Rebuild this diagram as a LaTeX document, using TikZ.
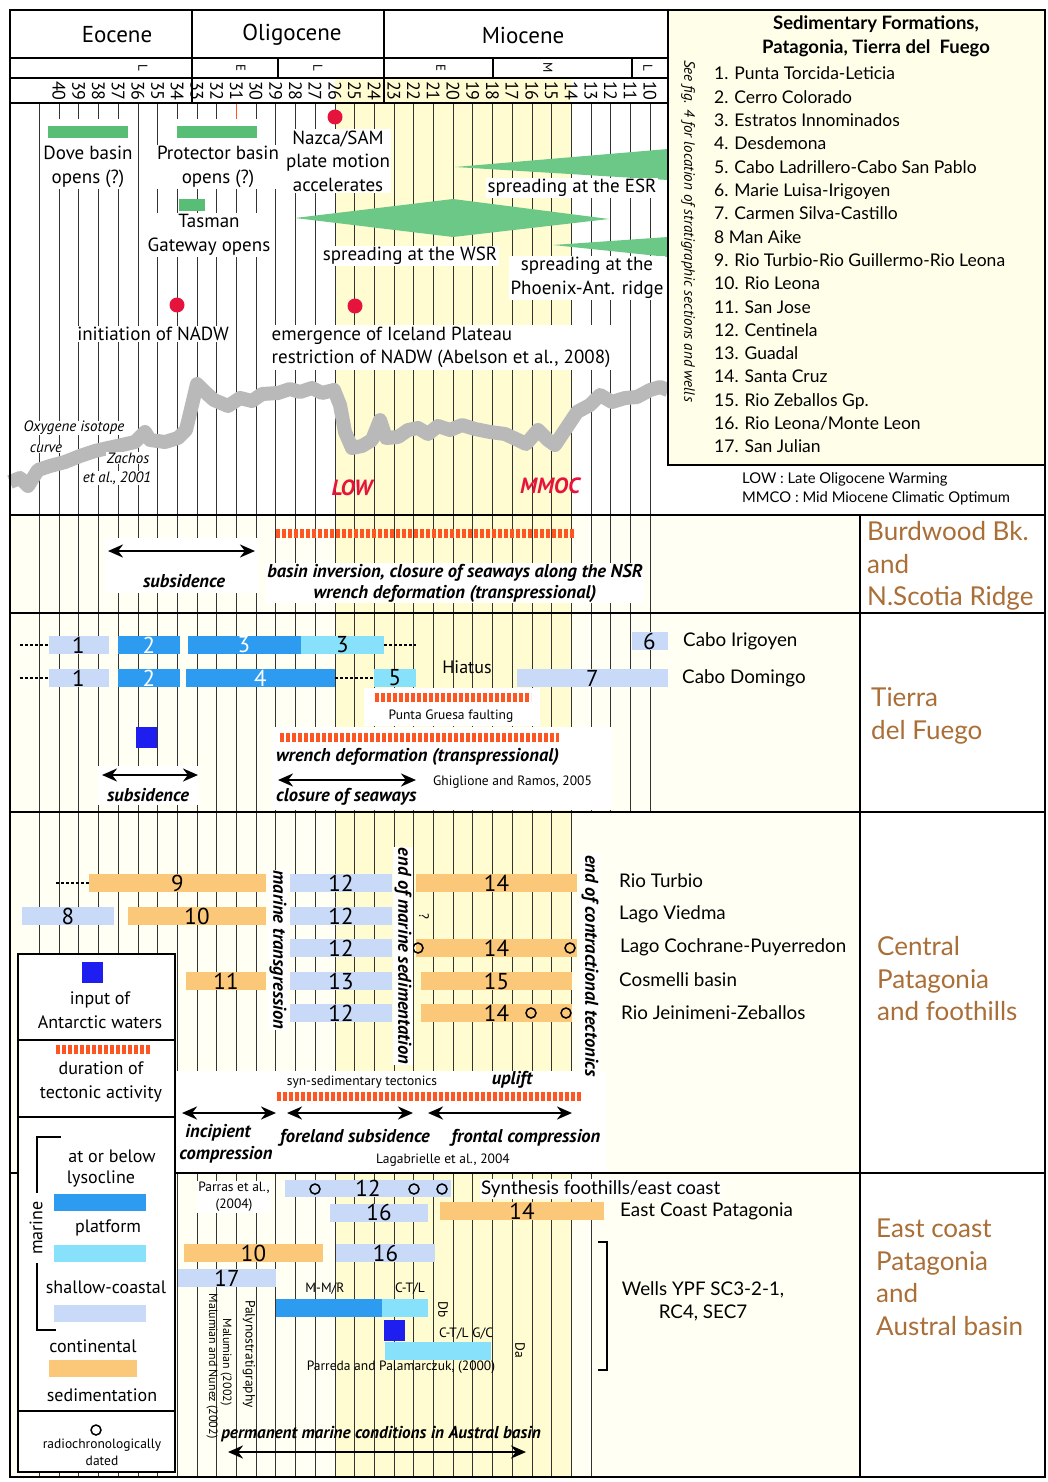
\documentclass[tikz,border=0pt]{standalone}
\usepackage{fontspec}
\setmainfont{PT Sans}
\newfontfamily\listfont{Lato}
\usetikzlibrary{arrows.meta}

\definecolor{lysoblue}{RGB}{45,155,240}
\definecolor{platcyan}{RGB}{135,225,250}
\definecolor{shallow}{RGB}{200,218,248}
\definecolor{contorange}{RGB}{251,200,122}
\definecolor{tectored}{RGB}{255,85,35}
\definecolor{antblue}{RGB}{30,30,240}
\definecolor{eventgreen}{RGB}{88,190,118}
\definecolor{spreadgreen}{RGB}{108,200,135}
\definecolor{bandyellow}{RGB}{255,252,210}
\definecolor{creambg}{RGB}{255,255,243}
\definecolor{legendbg}{RGB}{255,255,233}
\definecolor{regionbrown}{RGB}{170,110,55}
\definecolor{eventred}{RGB}{230,20,60}
\definecolor{isogray}{RGB}{185,185,185}

\newcommand{\agex}[1]{59+(40-#1)*19.7}
\newcommand{\evtfont}{\fontsize{19}{23.5}\selectfont}
\newcommand{\barfont}{\fontsize{23}{23}\selectfont}

\tikzstyle{ageline} = [black!80, line width=0.6pt]
\tikzstyle{sepline} = [black, line width=1.5pt]
\tikzstyle{legbox} = [black, line width=2pt]
\tikzstyle{epoch} = [font=\fontsize{23}{26}\selectfont]
\tikzstyle{subep} = [font=\fontsize{13}{15}\selectfont, rotate=-90, inner sep=0pt]
\tikzstyle{agenum} = [font=\fontsize{18}{20}\selectfont, rotate=-90, inner sep=0pt]
\tikzstyle{evt} = [font=\evtfont, fill=white, align=center, inner sep=1.5pt]
\tikzstyle{gbar} = [fill=eventgreen, minimum height=12pt, inner sep=0pt]
\tikzstyle{reddot} = [circle, fill=eventred, minimum size=15pt, inner sep=0pt]
\tikzstyle{isolbl} = [font=\itshape\fontsize{15}{18}\selectfont, fill=white, inner sep=0.5pt]
\tikzstyle{warm} = [font=\bfseries\itshape\fontsize{22}{24}\selectfont, text=eventred]
\tikzstyle{seefig} = [font=\itshape\fontsize{15}{18}\selectfont, rotate=-90]
\tikzstyle{fmtitle} = [font=\listfont\bfseries\fontsize{18.5}{24}\selectfont, align=center]
\tikzstyle{fmitem} = [font=\listfont\fontsize{17.5}{20}\selectfont, anchor=west, inner sep=0pt, text height=12pt, text depth=4pt]
\tikzstyle{abbr} = [font=\listfont\fontsize{14.8}{16}\selectfont, anchor=west, inner sep=0pt]
\tikzstyle{region} = [font=\listfont\fontsize{26}{32.5}\selectfont, text=regionbrown, anchor=west, align=left, inner sep=0pt]
\tikzstyle{locality} = [font=\listfont\fontsize{18.8}{23}\selectfont, anchor=west, inner sep=0pt]
\tikzstyle{fmbar} = [minimum height=18pt, inner sep=0pt, font=\barfont]
\tikzstyle{lysbar} = [fmbar, fill=lysoblue, text=white]
\tikzstyle{platbar} = [fmbar, fill=platcyan]
\tikzstyle{shalbar} = [fmbar, fill=shallow]
\tikzstyle{contbar} = [fmbar, fill=contorange]
\tikzstyle{antsq} = [fill=antblue, minimum size=21pt, inner sep=0pt]
\tikzstyle{radio} = [circle, draw, line width=1.5pt, minimum size=10pt, inner sep=0pt]
\tikzstyle{tecto} = [draw=tectored, line width=9pt, dash pattern=on 3.6pt off 2.4pt]
\tikzstyle{dbl} = [line width=2.8pt, {Stealth[length=15pt,width=13pt]}-{Stealth[length=15pt,width=13pt]}]
\tikzstyle{lead} = [line width=1.2pt, dash pattern=on 3pt off 2pt]
\tikzstyle{remark} = [font=\bfseries\itshape\fontsize{18.5}{21}\selectfont, inner sep=1pt]
\tikzstyle{vremark} = [remark, rotate=-90, fill=white]
\tikzstyle{smalltxt} = [font=\fontsize{13.5}{17}\selectfont, inner sep=1pt]
\tikzstyle{tinyrot} = [font=\fontsize{12}{14}\selectfont, rotate=-90, inner sep=0pt]
\tikzstyle{plaintxt} = [font=\fontsize{18}{22}\selectfont]
\tikzstyle{leg} = [font=\fontsize{18}{24}\selectfont, align=center, inner sep=0pt]

\begin{document}
\begin{tikzpicture}[x=1pt, y=-1pt]
        \useasboundingbox (0,0) rectangle (1048,1482);
        \fill[white] (0,0) rectangle (1048,1482);
        \fill[creambg] (10,515) rectangle (860,1477);
        \fill[bandyellow] (335,78) rectangle (571,1477);

        \foreach \m in {41,...,10} \draw[ageline] ({\agex{\m}},103) -- ({\agex{\m}},812);
        \foreach \m in {41,...,14} \draw[ageline] ({\agex{\m}},812) -- ({\agex{\m}},1173);
        \foreach \m in {41,...,13} \draw[ageline] ({\agex{\m}},1173) -- ({\agex{\m}},1477);
        \draw[tectored, line width=0.8pt] ({\agex{31}},103) -- ({\agex{31}},148);

        \draw[sepline] (10,58) -- (668,58) (10,78) -- (668,78) (10,103) -- (668,103);
        \draw[sepline] (192,10) -- (192,103) (384,10) -- (384,103) (278,58) -- (278,78) (493,58) -- (493,78) (632,58) -- (632,78);
        \node[epoch] (eocene) at (117,35) {Eocene};
        \node[epoch] (oligocene) at (292,35) {Oligocene};
        \node[epoch] (miocene) at (523,35) {Miocene};
        \node[subep] (eoL) at (143,68) {L};
        \node[subep] (olE) at (241,68) {E};
        \node[subep] (olL) at (318,68) {L};
        \node[subep] (miE) at (441,68) {E};
        \node[subep] (miM) at (548,68) {M};
        \node[subep] (miL) at (648,68) {L};
        \foreach \m in {40,...,10} \node[agenum] (age\m) at ({\agex{\m}},91) {\m};

        \fill[white] (44,119) rectangle (132,146);
        \fill[white] (172,119) rectangle (262,146);
        \node[gbar, minimum width=80pt] (dovebar) at (88,132) {};
        \node[gbar, minimum width=80pt] (protbar) at (217,132) {};
        \node[gbar, minimum width=26pt] (tasbar) at (192,205) {};
        \fill[spreadgreen] (455,167) -- (668,149) -- (668,180) -- cycle;
        \fill[spreadgreen] (295,218) -- (453,199) -- (609,219) -- (453,237) -- cycle;
        \fill[spreadgreen] (553,245) -- (668,237) -- (668,257) -- cycle;
        \node[evt] (dove) at (88,167) {Dove basin\\opens (?)};
        \node[evt] (protector) at (218,167) {Protector basin\\opens (?)};
        \node[evt] (tasman) at (209,235) {Tasman\\Gateway opens};
        \node[reddot] (nazcadot) at (335,117) {};
        \node[evt] (nazca) at (338,161) {Nazca/SAM\\plate motion\\accelerates};
        \node[evt] (esr) at (572,188) {spreading at the ESR};
        \node[evt] (wsr) at (410,256) {spreading at the WSR};
        \node[evt] (phoenix) at (587,278) {spreading at the\\Phoenix-Ant. ridge};
        \node[reddot] (nadwdot) at (177,305) {};
        \node[evt] (nadw) at (153,334) {initiation of NADW};
        \node[reddot] (iceldot) at (355,306) {};
        \node[evt, anchor=west, align=left] (iceland) at (270,347.5) {emergence of Iceland Plateau\\restriction of NADW (Abelson et al., 2008)};

        \draw[isogray, line width=14pt, line join=round] plot coordinates {(10,482) (20,478) (28,486) (38,470) (50,466) (65,462) (80,456) (95,451) (108,448) (122,445) (135,442) (145,432) (150,440) (165,442) (178,438) (186,430) (192,405) (197,384) (205,392) (214,400) (228,406) (240,398) (252,401) (262,394) (278,393) (290,389) (300,392) (312,388) (322,393) (334,390) (340,405) (345,432) (352,448) (362,446) (372,440) (380,420) (386,438) (398,437) (408,430) (418,428) (428,434) (438,426) (450,430) (462,425) (475,429) (490,432) (505,434) (518,440) (526,444) (538,430) (548,440) (555,445) (565,430) (577,412) (590,405) (600,395) (612,402) (625,398) (637,397) (650,390) (660,387) (668,390)};
        \node[isolbl] (oxy) at (74,428) {Oxygene isotope};
        \node[isolbl] (curve) at (46,449) {curve};
        \node[isolbl] (zachos) at (128,458) {Zachos};
        \node[isolbl] (zachosb) at (117,478) {et al., 2001};
        \node[warm] (low) at (352,488) {LOW};
        \node[warm] (mmoc) at (550,486) {MMOC};

        \draw[sepline, fill=legendbg] (668,10) rectangle (1045,465);
        \node[seefig] (seefig) at (688,231) {See fig. 4 for location of stratigraphic sections and wells};
        \node[fmtitle] (fmtitle) at (876,36) {Sedimentary Formations,\\Patagonia, Tierra del\ \ Fuego};
        \foreach \f [count=\i] in {{1. Punta Torcida-Leticia}, {2. Cerro Colorado}, {3. Estratos Innominados}, {4. Desdemona}, {5. Cabo Ladrillero-Cabo San Pablo}, {6. Marie Luisa-Irigoyen}, {7. Carmen Silva-Castillo}, {8 Man Aike}, {9. Rio Turbio-Rio Guillermo-Rio Leona}, {10. Rio Leona}, {11. San Jose}, {12. Centinela}, {13. Guadal}, {14. Santa Cruz}, {15. Rio Zeballos Gp.}, {16. Rio Leona/Monte Leon}, {17. San Julian}}
            \node[fmitem] (fm\i) at (714,{76+(\i-1)*23.3}) {\f};
        \node[abbr] (lowdef) at (742,479) {LOW : Late Oligocene Warming};
        \node[abbr] (mmcodef) at (742,498) {MMCO : Mid Miocene Climatic Optimum};

        \draw[sepline] (10,10) rectangle (1045,1477);
        \draw[sepline] (10,515) -- (1045,515) (10,613) -- (1045,613) (10,812) -- (1045,812) (10,1173) -- (1045,1173) (860,515) -- (860,1477);
        \node[region] (burdwood) at (867,566) {Burdwood Bk.\\and\\N.Scotia Ridge};
        \node[region] (tdf) at (871,716) {Tierra\\del Fuego};
        \node[region] (central) at (877,979) {Central\\Patagonia\\and foothills};
        \node[region] (eastcoast) at (876,1277.5) {East coast\\Patagonia\\and\\Austral basin};

        \fill[white] (105,538) rectangle (258,593);
        \draw[tecto] (276,533) -- (575,533);
        \coordinate (burSubsL) at (108,551);
        \coordinate (burSubsR) at (255,551);
        \draw[dbl] (burSubsL) -- (burSubsR);
        \node[remark] (bursubs) at (184,581) {subsidence};
        \node[remark, fill=white, align=center] (burinv) at (455,583) {basin inversion, closure of seaways along the NSR\\wrench deformation (transpressional)};

        \node[shalbar, minimum width=60pt] (tfa1) at (78.5,645) {1};
        \node[lysbar, minimum width=62pt] (tfa2) at (149,645) {2};
        \node[lysbar, minimum width=113pt] (tfa3) at (244,645) {3};
        \node[platbar, minimum width=83pt] (tfa3b) at (342.5,645) {3};
        \node[shalbar, minimum width=36pt] (tfa6) at (649.5,641) {6};
        \node[shalbar, minimum width=60pt] (tfb1) at (78.5,678) {1};
        \node[lysbar, minimum width=62pt] (tfb2) at (149,678) {2};
        \node[lysbar, minimum width=149pt] (tfb4) at (260.5,678) {4};
        \node[platbar, minimum width=42pt] (tfb5) at (395,678) {5};
        \node[shalbar, minimum width=151pt] (tfb7) at (592.5,678) {7};
        \coordinate (tfa1L) at (20,645);
        \coordinate (tfa3R) at (416,645);
        \coordinate (tfb1L) at (20,678);
        \draw[lead] (tfa1L) -- (tfa1.west);
        \draw[lead] (tfa3b.east) -- (tfa3R);
        \draw[lead] (tfb1L) -- (tfb1.west);
        \draw[lead] (tfb4.east) -- (tfb5.west);
        \node[plaintxt] (hiatus) at (467,667) {Hiatus};
        \node[locality] (irigoyen) at (683,641) {Cabo Irigoyen};
        \node[locality] (domingo) at (682,678) {Cabo Domingo};
        \fill[white] (364,688) rectangle (540,726);
        \draw[tecto] (375,697) -- (531,697);
        \node[smalltxt] (gruesa) at (451,716) {Punta Gruesa faulting};
        \node[antsq] (tfant) at (146.5,737) {};
        \fill[white] (272,727) rectangle (612,810);
        \draw[tecto] (280,737) -- (559,737);
        \node[remark, anchor=west] (tfwrench) at (275,757) {wrench deformation (transpressional)};
        \coordinate (tfClosL) at (278,780);
        \coordinate (tfClosR) at (416,780);
        \draw[dbl] (tfClosL) -- (tfClosR);
        \node[smalltxt, anchor=west] (ghiglione) at (432,782) {Ghiglione and Ramos, 2005};
        \node[remark, anchor=west] (tfclosure) at (275,797) {closure of seaways};
        \fill[white] (98,766) rectangle (199,805);
        \coordinate (tfSubsL) at (102,775);
        \coordinate (tfSubsR) at (198,775);
        \draw[dbl] (tfSubsL) -- (tfSubsR);
        \node[remark] (tfsubs) at (148,795) {subsidence};

        \node[contbar, minimum width=177pt] (ct9) at (177.5,883) {9};
        \node[shalbar, minimum width=102pt] (ct12a) at (341,883) {12};
        \node[contbar, minimum width=161pt] (ct14a) at (496.5,883) {14};
        \node[shalbar, minimum width=92pt] (ct8) at (68,916) {8};
        \node[contbar, minimum width=138pt] (ct10) at (197,916) {10};
        \node[shalbar, minimum width=102pt] (ct12b) at (341,916) {12};
        \node[shalbar, minimum width=102pt] (ct12c) at (341,948) {12};
        \node[contbar, minimum width=161pt] (ct14c) at (496.5,948) {14};
        \node[contbar, minimum width=80pt] (ct11) at (226,981) {11};
        \node[shalbar, minimum width=102pt] (ct13) at (341,981) {13};
        \node[contbar, minimum width=151pt] (ct15) at (496.5,981) {15};
        \node[shalbar, minimum width=102pt] (ct12e) at (341,1013) {12};
        \node[contbar, minimum width=151pt] (ct14e) at (496.5,1013) {14};
        \coordinate (ct9L) at (56,883);
        \draw[lead] (ct9L) -- (ct9.west);
        \node[radio] (ctr1) at (418,948) {};
        \node[radio] (ctr2) at (570,948) {};
        \node[radio] (ctr3) at (531,1013) {};
        \node[radio] (ctr4) at (566,1013) {};
        \node[smalltxt, rotate=-90] (ctq) at (424,916) {?};
        \node[locality] (rioturbio) at (619,881) {Rio Turbio};
        \node[locality] (viedma) at (619,914) {Lago Viedma};
        \node[locality] (cochrane) at (620,947) {Lago Cochrane-Puyerredon};
        \node[locality] (cosmelli) at (619,980) {Cosmelli basin};
        \node[locality] (jeinimeni) at (621,1013) {Rio Jeinimeni-Zeballos};

        \fill[white] (176,1071) rectangle (606,1172);
        \node[vremark] (margtrans) at (278,950) {marine transgression};
        \node[vremark] (endmarine) at (403,956) {end of marine sedimentation};
        \node[vremark] (endcontr) at (590,966) {end of contractional tectonics};
        \node[smalltxt] (synsed) at (362,1082) {syn-sedimentary tectonics};
        \node[remark] (uplift) at (512,1080) {uplift};
        \draw[tecto] (277,1096) -- (581,1096);
        \coordinate (ctIncL) at (182,1113);
        \coordinate (ctIncR) at (276,1113);
        \coordinate (ctForL) at (287,1113);
        \coordinate (ctForR) at (413,1113);
        \coordinate (ctFroL) at (428,1113);
        \coordinate (ctFroR) at (572,1113);
        \draw[dbl] (ctIncL) -- (ctIncR);
        \draw[dbl] (ctForL) -- (ctForR);
        \draw[dbl] (ctFroL) -- (ctFroR);
        \node[remark] (incipient) at (218,1133) {incipient};
        \node[remark] (compression) at (226,1155) {compression};
        \node[remark] (foreland) at (355,1138) {foreland subsidence};
        \node[remark] (frontal) at (526,1138) {frontal compression};
        \node[smalltxt] (lagabrielle) at (443,1160) {Lagabrielle et al., 2004};

        \draw[legbox, fill=white] (18,954) rectangle (175,1472);
        \draw[legbox] (18,1040) -- (175,1040) (18,1117) -- (175,1117) (18,1411) -- (175,1411);
        \node[antsq] (legant) at (92.5,972) {};
        \node[leg] (leginput) at (100,1010) {input of\\Antarctic waters};
        \draw[tecto] (56,1049) -- (150,1049);
        \node[leg] (legdur) at (101,1082) {duration of\\tectonic activity};
        \draw[line width=1.6pt] (61,1137) -- (37,1137) -- (37,1193);
        \draw[line width=1.6pt] (37,1263) -- (37,1330) -- (56,1330);
        \node[leg, rotate=90] (legmarine) at (36,1228) {marine};
        \node[leg] (legat) at (112,1156) {at or below};
        \node[leg] (leglys) at (101,1179) {lysocline};
        \node[lysbar, minimum width=92pt, minimum height=17pt] (leglysbar) at (100,1202) {};
        \node[leg] (legplat) at (108,1228) {platform};
        \node[platbar, minimum width=92pt, minimum height=17pt] (legplatbar) at (100,1253) {};
        \node[leg] (legshal) at (106,1287) {shallow-coastal};
        \node[shalbar, minimum width=92pt, minimum height=17pt] (legshalbar) at (100,1313) {};
        \node[leg] (legcont) at (93,1346) {continental};
        \node[contbar, minimum width=88pt, minimum height=17pt] (legcontbar) at (93,1368) {};
        \node[leg] (legsed) at (102,1395) {sedimentation};
        \node[radio] (legradio) at (96,1430) {};
        \node[smalltxt, align=center] (legradtxt) at (102,1452) {radiochronologically\\dated};

        \node[smalltxt, fill=white, align=center] (parras) at (234,1197) {Parras et al.,\\(2004)};
        \node[shalbar, minimum width=166pt, minimum height=17pt] (ec12) at (368,1188.5) {12};
        \node[shalbar, minimum width=98pt] (ec16a) at (379,1212.5) {16};
        \node[contbar, minimum width=164pt] (ec14) at (522,1211) {14};
        \node[contbar, minimum width=139pt] (ec10) at (253.5,1253) {10};
        \node[shalbar, minimum width=99pt] (ec16b) at (385.5,1253) {16};
        \node[shalbar, minimum width=98pt] (ec17) at (227,1278) {17};
        \node[radio] (ecr1) at (315,1189) {};
        \node[radio] (ecr2) at (414,1189) {};
        \node[radio] (ecr3) at (442,1189) {};
        \node[locality, fill=white, inner sep=1pt] (synthesis) at (480,1189) {Synthesis foothills/east coast};
        \node[locality] (eastcoastpat) at (620,1211) {East Coast Patagonia};
        \node[smalltxt] (mmr) at (325,1289) {M-M/R};
        \node[smalltxt] (ctl) at (410,1289) {C-T/L};
        \node[lysbar, minimum width=106pt] (eclys) at (329,1307.5) {};
        \node[platbar, minimum width=46pt] (ecplat) at (405,1307.5) {};
        \node[smalltxt, rotate=-90] (db) at (443,1310) {Db};
        \node[antsq] (ecant) at (394,1330) {};
        \node[smalltxt] (ctlgc) at (466,1334) {C-T/L G/C};
        \node[platbar, minimum width=106pt] (ecplat2) at (438,1351) {};
        \node[smalltxt, rotate=-90] (da) at (520,1350) {Da};
        \node[smalltxt] (parreda) at (401,1367) {Parreda and Palamarczuk, (2000)};
        \node[tinyrot] (malnun) at (212,1366) {Malumian and Nunez (2002)};
        \node[tinyrot] (malum) at (226,1362) {Malumian (2002)};
        \node[smalltxt, rotate=-90] (palyno) at (249,1354) {Palynostratigraphy};
        \node[remark, font=\bfseries\itshape\fontsize{17.2}{19}\selectfont] (permanent) at (381,1434) {permanent marine conditions in Austral basin};
        \coordinate (ecPermL) at (228,1452);
        \coordinate (ecPermR) at (526,1452);
        \draw[dbl] (ecPermL) -- (ecPermR);
        \draw[line width=1.6pt] (598,1242) -- (607,1242) -- (607,1370) -- (598,1370);
        \node[locality, anchor=center, align=center] (wells) at (703,1301.5) {Wells YPF SC3-2-1,\\RC4, SEC7};
    \end{tikzpicture}
\end{document}
